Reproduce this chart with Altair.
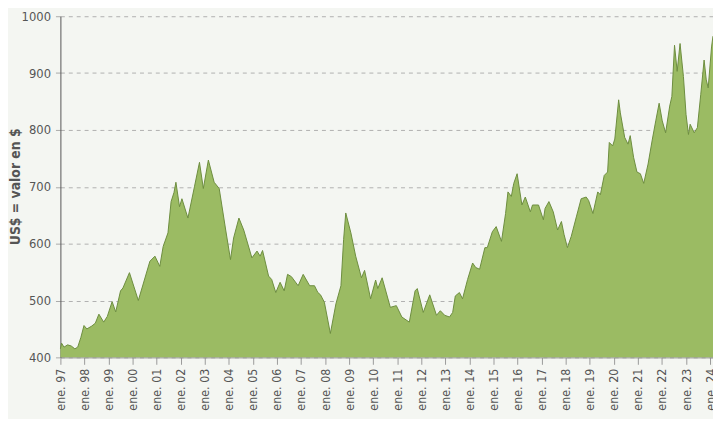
import altair as alt
import pandas as pd

# decimal-year positions and US$ values
years = [
    1997.00, 1997.05, 1997.15, 1997.30, 1997.45, 1997.60, 1997.72, 1997.85, 1997.98,
    1998.10, 1998.30, 1998.45, 1998.60, 1998.80, 1998.95, 1999.15, 1999.30, 1999.50,
    1999.60, 1999.87, 2000.24, 2000.72, 2000.93, 2001.13, 2001.27, 2001.47, 2001.60,
    2001.72, 2001.80, 2001.95, 2002.05, 2002.30, 2002.57, 2002.78, 2002.94, 2003.15,
    2003.39, 2003.60, 2003.87, 2004.07, 2004.20, 2004.42, 2004.62, 2004.96, 2005.17,
    2005.30, 2005.40, 2005.65, 2005.78, 2005.95, 2006.13, 2006.30, 2006.44, 2006.60,
    2006.88, 2007.09, 2007.36, 2007.56, 2007.70, 2007.81, 2007.97, 2008.22, 2008.45,
    2008.66, 2008.77, 2008.86, 2009.07, 2009.27, 2009.51, 2009.64, 2009.89, 2010.10,
    2010.19, 2010.37, 2010.71, 2010.96, 2011.19, 2011.50, 2011.74, 2011.83, 2012.08,
    2012.35, 2012.63, 2012.79, 2012.97, 2013.17, 2013.30, 2013.41, 2013.58, 2013.71,
    2013.92, 2014.13, 2014.26, 2014.42, 2014.64, 2014.74, 2014.95, 2015.11, 2015.33,
    2015.50, 2015.60, 2015.74, 2015.84, 2015.98, 2016.18, 2016.32, 2016.53, 2016.62,
    2016.87, 2017.07, 2017.14, 2017.30, 2017.48, 2017.66, 2017.82, 2017.93, 2018.07,
    2018.23, 2018.44, 2018.64, 2018.85, 2018.95, 2019.13, 2019.33, 2019.44, 2019.60,
    2019.74, 2019.81, 2019.95, 2020.04, 2020.20, 2020.27, 2020.45, 2020.59, 2020.68,
    2020.82, 2020.96, 2021.10, 2021.24, 2021.42, 2021.60, 2021.74, 2021.88, 2022.01,
    2022.15, 2022.32, 2022.41, 2022.52, 2022.63, 2022.75, 2022.89, 2023.00, 2023.10,
    2023.17, 2023.34, 2023.47, 2023.61, 2023.75, 2023.84, 2023.92, 2024.06, 2024.12,
]
values = [
    415, 425, 418, 422, 420, 415, 418, 435, 456,
    450, 455, 460, 476, 462, 472, 498, 480, 517,
    522, 549, 500, 569, 578, 560, 595, 619, 674,
    690, 708, 665, 679, 645, 700, 743, 697, 747,
    708, 697, 624, 572, 610, 645, 624, 575, 587,
    578, 588, 543, 537, 514, 532, 517, 546, 542,
    526, 546, 526, 526, 514, 510, 497, 442, 494,
    526, 607, 654, 619, 578, 540, 553, 503, 536,
    521, 540, 488, 491, 471, 462, 517, 521, 479,
    510, 474, 482, 474, 471, 479, 508, 514, 503,
    537, 566, 558, 555, 593, 593, 621, 630, 604,
    653, 691, 683, 706, 723, 668, 682, 656, 668,
    668, 642, 662, 674, 656, 624, 639, 616, 593,
    613, 647, 679, 682, 676, 653, 691, 686, 720,
    726, 778, 772, 784, 853, 830, 787, 775, 790,
    752, 726, 723, 706, 740, 784, 816, 847, 816,
    795, 842, 859, 949, 903, 952, 894, 827, 792,
    810, 795, 804, 862, 923, 888, 874, 946, 965,
]
tick_years = list(range(1997, 2025))
y_ticks = [400, 500, 600, 700, 800, 900, 1000]


def to_date(y):
    yi = int(y)
    d = pd.Timestamp(year=yi, month=1, day=1) + pd.Timedelta(days=(y - yi) * 365.25)
    return d.strftime("%Y-%m-%dT%H:%M:%S")


df = pd.DataFrame({"fecha": [to_date(y) for y in years], "valor": values})

FONT = "DejaVu Sans Condensed, Liberation Sans Narrow, Roboto, sans-serif"

x_enc = alt.X(
    "fecha:T",
    scale=alt.Scale(domain=[alt.DateTime(year=1997, month=1, date=1),
                            alt.DateTime(year=2024, month=2, date=14)]),
    axis=alt.Axis(
        values=[alt.DateTime(year=y, month=1, date=1) for y in tick_years],
        labelExpr="'ene. ' + timeFormat(datum.value, '%y')",
        labelAngle=-90,
        labelAlign="right",
        labelBaseline="middle",
        labelPadding=4,
        tickSize=7,
        tickColor="#9a9a9a",
        domainColor="#8a8a8a",
        grid=False,
        title=None,
        labelFontSize=12.5,
        labelColor="#555555",
        labelFont=FONT,
        labelOverlap=False,
        labelBound=False,
    ),
)

y_enc = alt.Y(
    "valor:Q",
    scale=alt.Scale(domain=[400, 1000], zero=False, nice=False),
    axis=alt.Axis(
        values=y_ticks,
        format="d",
        title="US$ = valor en $",
        titleFont=FONT,
        titleFontSize=14,
        titleFontWeight="bold",
        titleColor="#555555",
        titleX=-45,
        titleY=172,
        titleAngle=-90,
        titleAlign="center",
        titleBaseline="middle",
        labelFont=FONT,
        labelFontSize=13,
        labelColor="#555555",
        labelPadding=5,
        tickSize=5,
        tickColor="#aaaaaa",
        domainColor="#555555",
        grid=True,
        gridColor="#b0b0b0",
        gridDash=[4, 4],
        gridWidth=1,
    ),
)

chart = (
    alt.Chart(df)
    .mark_area(
        color="#9bbb63",
        opacity=1,
        interpolate="linear",
        line={"color": "#6c8d3f", "strokeWidth": 1},
    )
    .encode(x=x_enc, y=y_enc, y2=alt.datum(400))
    .properties(
        width=660,
        height=345,
        autosize=alt.AutoSizeParams(type="none"),
        padding={"left": 53, "top": 6, "right": 0, "bottom": 60},
        background="#f4f6f2",
    )
    .configure_view(stroke=None)
)

chart.save("out.html", embed_options={"renderer": "svg", "actions": False})
